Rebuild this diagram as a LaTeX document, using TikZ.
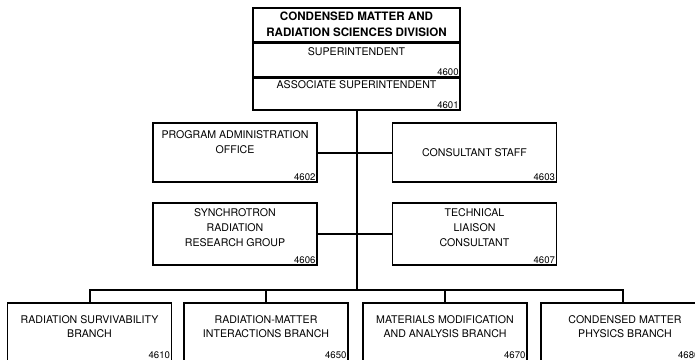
\documentclass[tikz,border=0pt]{standalone}
\usepackage{fontspec}
\setmainfont{TeX Gyre Heros}
\usetikzlibrary{positioning}

\begin{document}
\begin{tikzpicture}[x=1pt,y=-1pt,
  box/.style={draw,line width=1.4pt,rectangle,inner sep=0pt,minimum width=164pt},
  txt/.style={align=center,inner sep=0pt,font=\fontsize{10.6}{15}\selectfont},
  btxt/.style={txt,font=\fontsize{10.6}{13.5}\selectfont},
  num/.style={anchor=south east,inner sep=2pt,font=\fontsize{9.6}{10}\selectfont},
  link/.style={line width=2pt}]
\clip (0,0) rectangle (695,359);
% division office
\node[box,line width=1.6pt,minimum width=207pt,minimum height=34pt] (div) at (356.5,25) {};
\node[box,line width=1.6pt,minimum width=207pt,minimum height=33pt,below=0pt of div] (supt) {};
\node[box,line width=1.6pt,minimum width=207pt,minimum height=32pt,below=0pt of supt] (assoc) {};
\node[txt,font=\fontsize{11.6}{15.5}\bfseries] (divT) at (356.5,24.5) {CONDENSED MATTER AND\\RADIATION SCIENCES DIVISION};
\node[txt] (suptT) at (356.5,52) {SUPERINTENDENT};
\node[num] (suptN) at (supt.south east) {4600};
\node[txt] (assocT) at (356.5,85) {ASSOCIATE SUPERINTENDENT};
\node[num] (assocN) at (assoc.south east) {4601};
% staff
\node[box,minimum height=59pt] (pao) at (235,152.5) {};
\node[txt] (paoT) at (235,142.5) {PROGRAM ADMINISTRATION\\OFFICE};
\node[num] (paoN) at (pao.south east) {4602};
\node[box,minimum height=59pt] (cs) at (474.5,152.5) {};
\node[txt] (csT) at (474.5,153) {CONSULTANT STAFF};
\node[num] (csN) at (cs.south east) {4603};
\node[box,minimum height=62pt] (srr) at (235,234) {};
\node[txt] (srrT) at (235,228) {SYNCHROTRON\\RADIATION\\RESEARCH GROUP};
\node[num] (srrN) at (srr.south east) {4606};
\node[box,minimum height=62pt] (tlc) at (474.5,234) {};
\node[txt] (tlcT) at (474.5,228) {TECHNICAL\\LIAISON\\CONSULTANT};
\node[num] (tlcN) at (tlc.south east) {4607};
% branches
\node[box,minimum height=60pt] (rsb) at (89.5,333) {};
\node[btxt] (rsbT) at (89.5,326.5) {RADIATION SURVIVABILITY\\BRANCH};
\node[num] (rsbN) at ([yshift=3pt]rsb.south east) {4610};
\node[box,minimum height=60pt] (rmb) at (266,333) {};
\node[btxt] (rmbT) at (266,326.5) {RADIATION-MATTER\\INTERACTIONS BRANCH};
\node[num] (rmbN) at ([yshift=3pt]rmb.south east) {4650};
\node[box,minimum height=60pt] (mmb) at (445,333) {};
\node[btxt] (mmbT) at (445,326.5) {MATERIALS MODIFICATION\\AND ANALYSIS BRANCH};
\node[num] (mmbN) at ([yshift=3pt]mmb.south east) {4670};
\node[box,minimum height=60pt] (cmb) at (623,333) {};
\node[btxt] (cmbT) at (625,326.5) {CONDENSED MATTER\\PHYSICS BRANCH};
\node[num] (cmbN) at ([xshift=-4pt,yshift=3pt]cmb.south east) {4680};
% connectors
\coordinate (bus) at (356.5,290);
\draw[link] (assoc.south) -- (bus);
\draw[link] (pao.east) -- (cs.west);
\draw[link] (srr.east) -- (tlc.west);
\draw[link] (rsb.north) |- (bus) -| (cmb.north);
\draw[link] (rmb.north) -- (rmb.north |- bus);
\draw[link] (mmb.north) -- (mmb.north |- bus);
\end{tikzpicture}
\end{document}
